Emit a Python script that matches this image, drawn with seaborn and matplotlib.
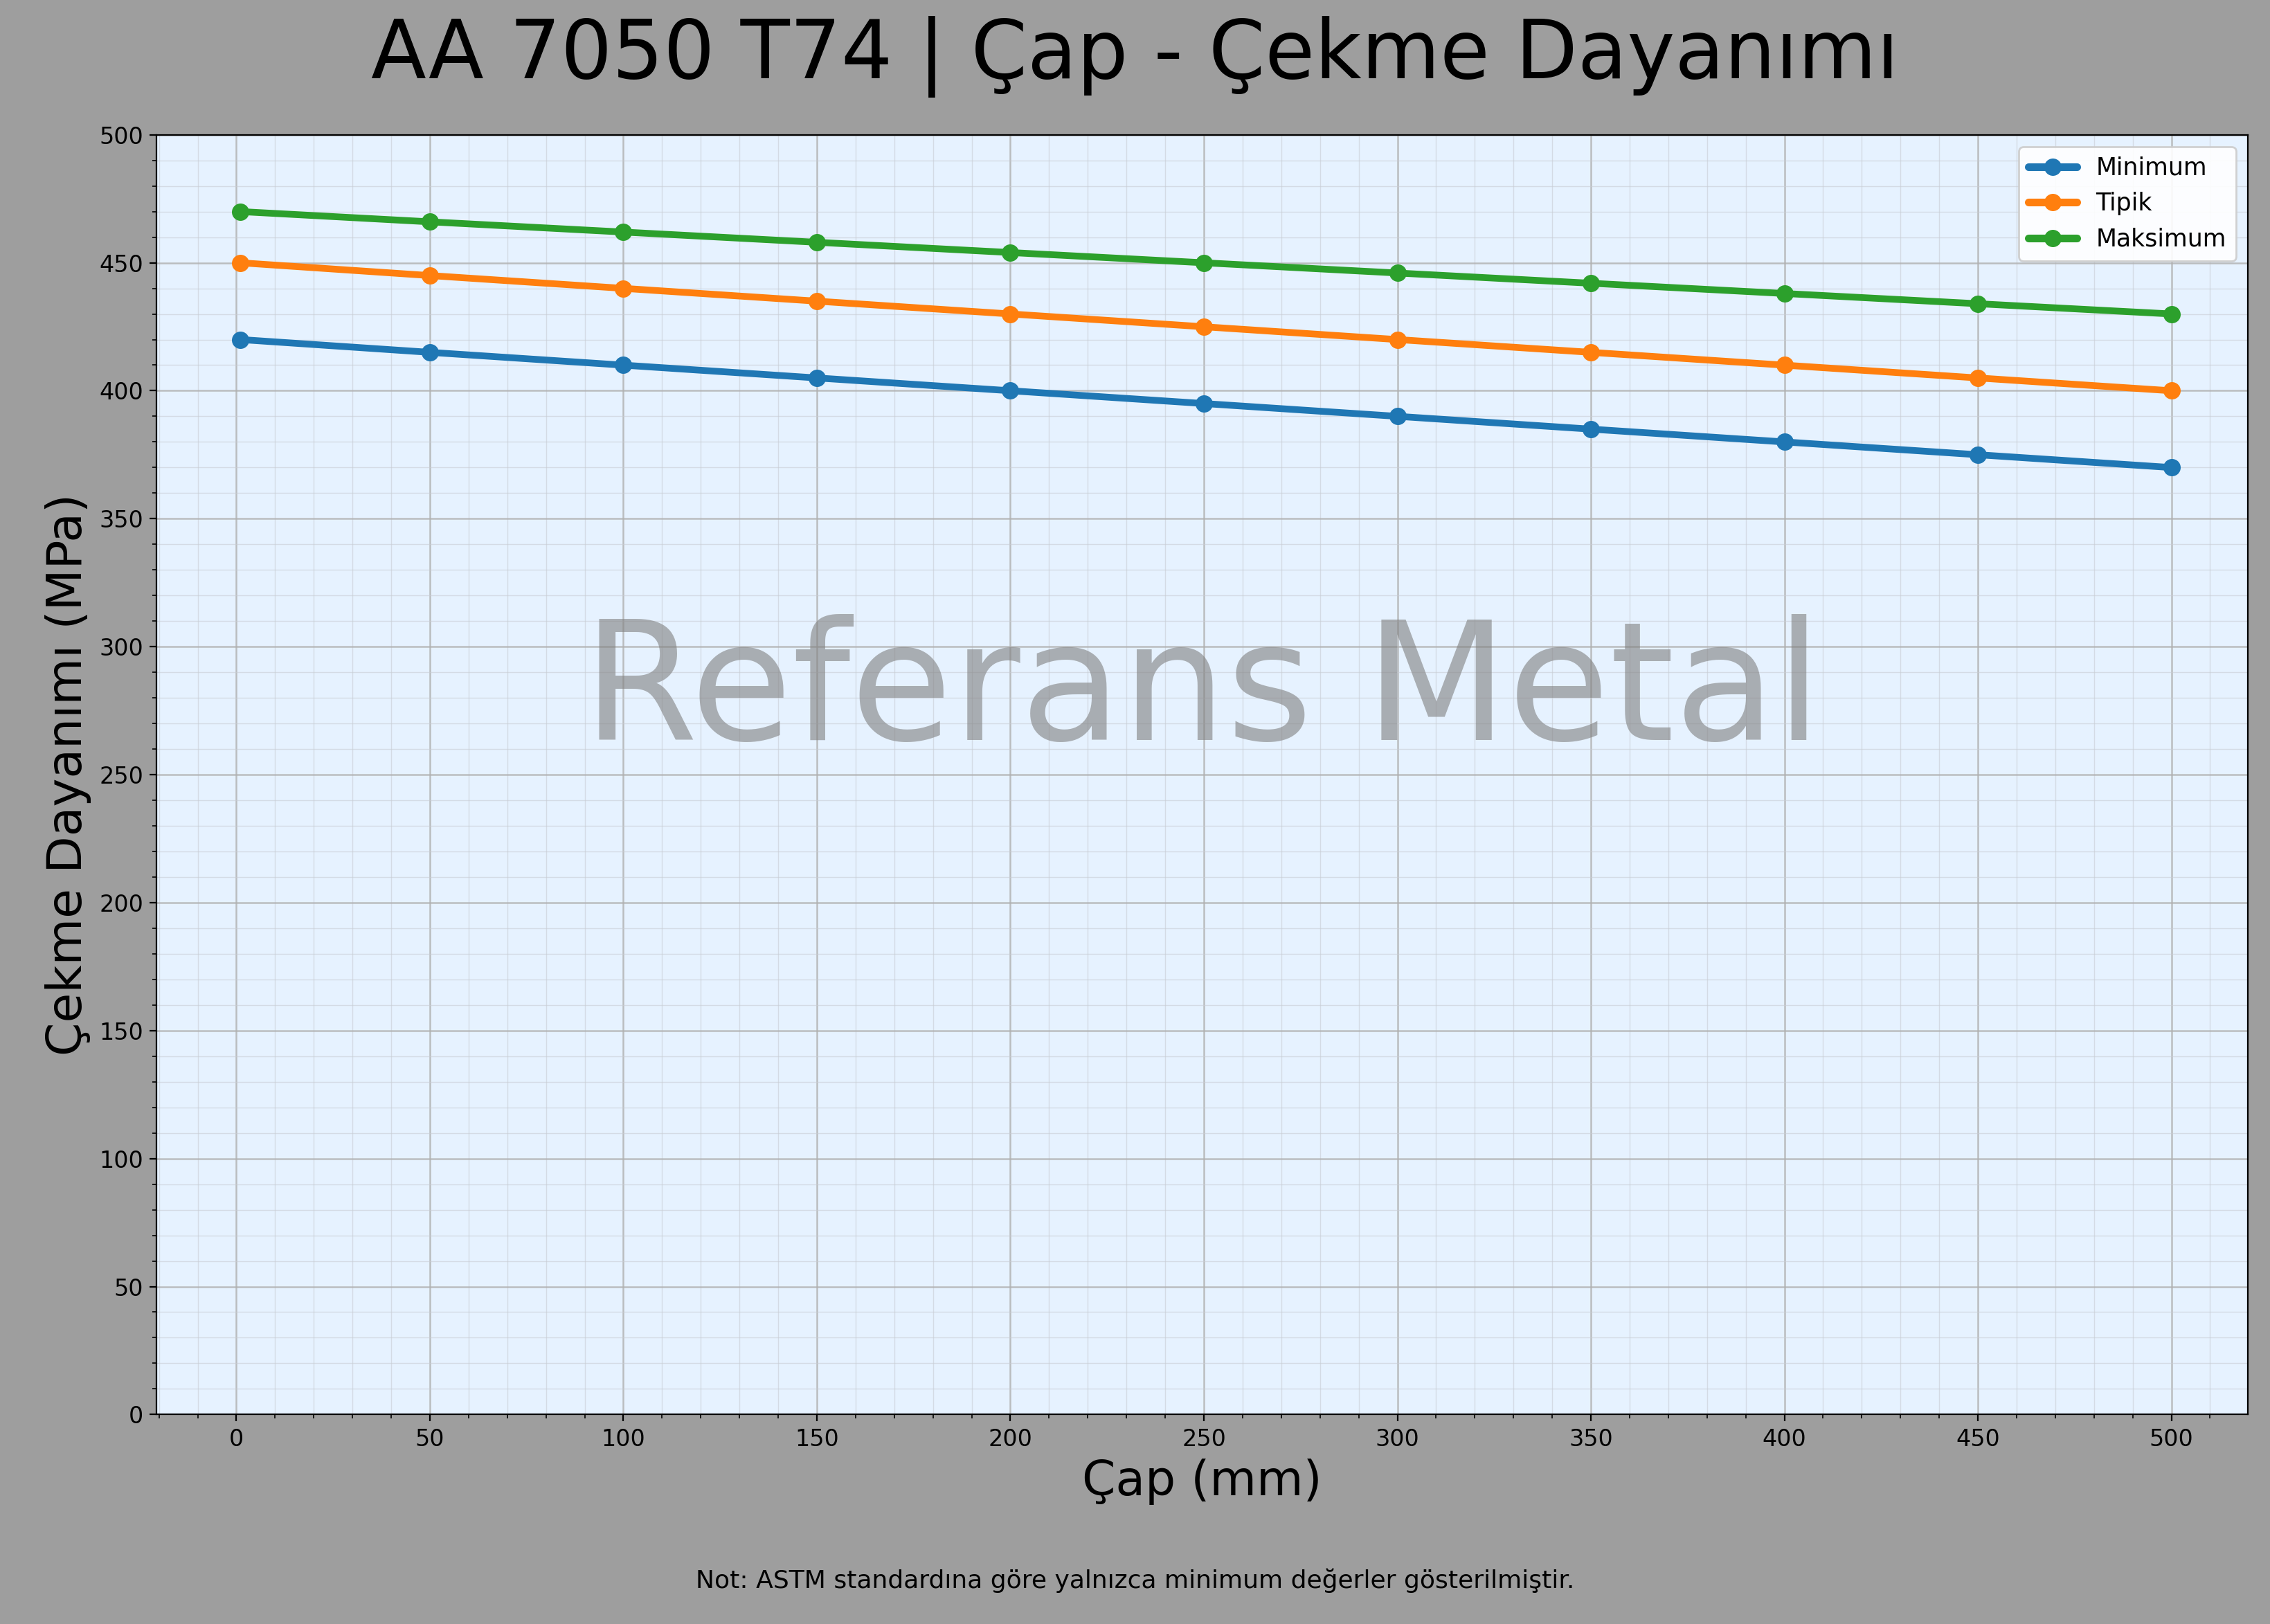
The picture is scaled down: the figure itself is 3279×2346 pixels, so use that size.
import numpy as np
import seaborn as sns
import matplotlib.pyplot as plt
import pandas as pd
from matplotlib.ticker import MultipleLocator

sns.set_style('ticks')
plt.rcParams['font.family'] = ['DejaVu Sans']
plt.rcParams['text.color'] = 'black'
plt.rcParams['axes.labelcolor'] = 'black'
plt.rcParams['xtick.color'] = 'black'
plt.rcParams['ytick.color'] = 'black'

cap = [1, 50, 100, 150, 200, 250, 300, 350, 400, 450, 500]
minimum = [420, 415, 410, 405, 400, 395, 390, 385, 380, 375, 370]
tipik = [450, 445, 440, 435, 430, 425, 420, 415, 410, 405, 400]
maksimum = [470, 466, 462, 458, 454, 450, 446, 442, 438, 434, 430]

df = pd.DataFrame({'Çap': cap, 'Minimum': minimum, 'Tipik': tipik, 'Maksimum': maksimum})
df = df.melt(id_vars='Çap', var_name='Seri', value_name='Değer')

fig = plt.figure(figsize=(16.4, 11.73), dpi=200, facecolor='#9e9e9e')
ax = fig.add_axes([0.069, 0.129, 0.921, 0.788])
ax.set_facecolor('#e6f2ff')

sns.lineplot(data=df, x='Çap', y='Değer', hue='Seri', marker='o', markersize=9,
             markeredgewidth=0, linewidth=3.5, palette=['#1f77b4', '#ff7f0e', '#2ca02c'], ax=ax)

ax.set_xlim(-20.6, 519.8)
ax.set_ylim(0, 500)
ax.xaxis.set_major_locator(MultipleLocator(50))
ax.yaxis.set_major_locator(MultipleLocator(50))
ax.xaxis.set_minor_locator(MultipleLocator(10))
ax.yaxis.set_minor_locator(MultipleLocator(10))
ax.grid(which='major', color='#b0b0b0', linewidth=0.9, alpha=0.8)
ax.grid(which='minor', color='#c8ccd4', linewidth=0.5, alpha=0.6)
ax.tick_params(labelsize=12)
for s in ax.spines.values():
    s.set_visible(True)
    s.set_color('black')

ax.set_xlabel('Çap (mm)', fontsize=25)
ax.set_ylabel('Çekme Dayanımı (MPa)', fontsize=25)
leg = ax.legend(title=None, fontsize=12.5, loc='upper right', framealpha=0.9)
for line in leg.get_lines():
    line.set_linewidth(4)

ax.text(0.5, 0.5, 'Referans Metal', transform=ax.transAxes, fontsize=86,
        color='gray', alpha=0.6, ha='center', va='bottom')
fig.suptitle('AA 7050 T74 | Çap - Çekme Dayanımı', fontsize=42, y=0.99)
fig.text(0.5, 0.022, 'Not: ASTM standardına göre yalnızca minimum değerler gösterilmiştir.',
         ha='center', fontsize=13)

fig.savefig('out.png', dpi=200, facecolor=fig.get_facecolor())
